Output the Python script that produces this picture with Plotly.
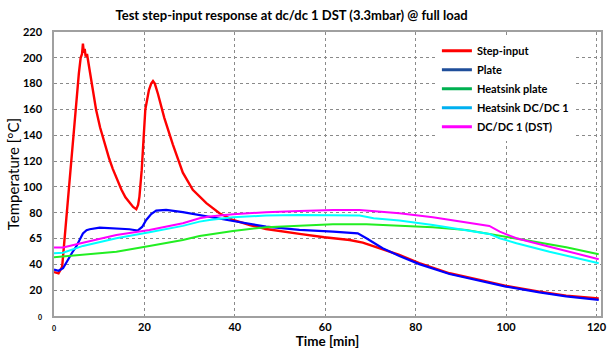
import plotly.graph_objects as go

# Step-input (red)
step_t = [0, 1, 1.8, 2.6, 3.4, 4.2, 4.8, 5.5, 5.9, 6.2, 6.4, 6.6, 6.8, 7.0, 7.3, 7.6, 7.9,
          8.6, 9.3, 10.2, 11.2, 12.2, 13.0, 13.8, 14.9, 15.8, 16.7, 17.5, 18.2, 18.6, 18.9, 19.4,
          20.2, 21.0, 21.5, 21.9, 22.3, 23.0, 24.4, 26.3, 28.5, 30.7, 33.7, 36.6, 39.6, 43.3,
          46.9, 50.6, 54.3, 59.8, 65.4, 68.3, 71.3, 76.4, 80.8, 87.5, 94.9, 100, 107.4, 113.3, 120.5]
step_v = [34, 33, 38, 70, 105, 140, 161, 188, 200, 203, 211, 204, 207, 201, 203, 196, 190,
          175, 160, 146, 133, 122, 114, 107, 98, 92, 87.5, 84.5, 82.7, 86, 92.5, 113,
          160, 175, 180, 182, 180, 172, 153.5, 132.8, 111, 97.7, 87.4, 79.6, 74.4, 70.5,
          67.4, 65.3, 63.6, 61, 58.9, 56.8, 53.3, 47.3, 40.9, 33.1, 27.4, 23.3, 18.9, 15.8, 13.5]

# Plate (blue)
plate_t = [0, 1, 2, 3, 3.4, 4, 4.9, 5.6, 6.4, 7.2, 7.9, 10.1, 13.8, 16.7, 18.5, 19.5, 20.4,
           21.5, 22.6, 24.8, 28.5, 32.2, 33.7, 39.6, 46.9, 54.3, 61.7, 67.2, 69.1, 72.7, 76.4,
           80.8, 87.5, 94.9, 100, 107.4, 113.3, 120.5]
plate_v = [36, 35, 37, 43, 46, 49, 53.7, 59, 64, 66.5, 67.2, 68.5, 68, 67.2, 66.1, 69, 74.4,
           79, 81.6, 82.2, 80.4, 78.3, 77, 73.6, 69.2, 66.7, 65.3, 64, 60.2, 52.5, 46.5,
           40.2, 32.5, 26.8, 22.8, 18.3, 15.2, 12.5]

# Heatsink plate (green)
hs_plate_t = [0, 6.4, 13.8, 21.1, 28.5, 32.2, 34.4, 39.6, 46.9, 54.3, 61.7, 69.1, 76.4,
              83.8, 91.2, 98.6, 106, 113.3, 120.5]
hs_plate_v = [45.5, 47.3, 49.8, 54.3, 58.9, 62, 63.3, 65.9, 68.8, 70, 71.1, 71.1, 70,
              68.8, 66.7, 62.3, 57.6, 53.3, 47.9]

# Heatsink DC/DC 1 (cyan)
hs_dc_t = [0, 2, 6.4, 13.8, 21.1, 28.5, 32.2, 34.4, 39.6, 46.9, 54.3, 61.7, 67.6, 70.7,
           76.4, 83.8, 91.2, 96.3, 98.6, 102.3, 109.6, 120.5]
hs_dc_v = [48.6, 49, 54.3, 60.2, 64.9, 69.8, 73.1, 74.4, 76.5, 77.8, 78.3, 78.3, 77.8, 75.7,
           73.9, 70.5, 66.7, 63.6, 60.2, 56.4, 49.8, 40.9]

# DC/DC 1 (DST) (magenta)
dst_t = [0, 2, 6.4, 13.8, 21.1, 28.5, 32.2, 34.4, 39.6, 46.9, 54.3, 61.7, 67.6, 72, 76.4,
         83.8, 91.2, 96.3, 98.6, 102.3, 109.6, 120.5]
dst_v = [53, 53, 56.8, 62.8, 66.7, 71.9, 75.7, 77, 78.8, 80.4, 81.4, 82.2, 82.2, 81, 79.6,
         76.5, 72.3, 69.8, 65.3, 60.2, 53.7, 44]

series_names = ["Step-input", "Plate", "Heatsink plate", "Heatsink DC/DC 1", "DC/DC 1 (DST)"]
line_colors = ["#FF0000", "#0000FF", "#22EE22", "#00FFFF", "#FF00FF"]
legend_colors = ["#FF0000", "#1F4E9A", "#00B050", "#00B0F0", "#FF00FF"]
line_widths = [2.4, 2.2, 2, 2, 2]

y_tick_vals = [0, 20, 40, 60, 80, 100, 120, 140, 160, 180, 200, 220]
y_tick_text = ["<span style='font-size:7px'>0</span>", "20", "40", "65", "80", "100",
               "120", "140", "160", "180", "200", "220"]
x_tick_vals = [0, 20, 40, 60, 80, 100, 120]
x_tick_text = ["<span style='font-size:7px'>0</span>", "20", "40", "60", "80", "100", "120"]

FONT = "Lato, Arial, sans-serif"

fig = go.Figure()
data = [(step_t, step_v), (plate_t, plate_v), (hs_plate_t, hs_plate_v),
        (hs_dc_t, hs_dc_v), (dst_t, dst_v)]
for (t, v), name, lc, lw in zip(data, series_names, line_colors, line_widths):
    fig.add_trace(go.Scatter(x=t, y=v, mode="lines", name=name, legendgroup=name,
                             showlegend=False, line=dict(color=lc, width=lw)))
# legend entries
for name, lc in zip(series_names, legend_colors):
    fig.add_trace(go.Scatter(x=[None], y=[None], mode="lines", name=name, legendgroup=name,
                             line=dict(color=lc, width=3)))

grid = dict(showgrid=True, gridcolor="#8a8a8a", griddash="dot", gridwidth=1,
            showline=True, linecolor="#a0a0a0", linewidth=1.5, mirror=True,
            zeroline=False, ticks="", automargin=False,
            tickfont=dict(family=FONT, size=11, color="black", weight="bold"))

fig.update_layout(
    width=610, height=349,
    margin=dict(l=54, r=9, t=32, b=33),
    paper_bgcolor="white", plot_bgcolor="white",
    font=dict(family=FONT, color="black"),
    title=dict(text="<b>Test step-input response at dc/dc 1 DST (3.3mbar) @ full load</b>",
               x=0.478, xanchor="center", y=0.955, yanchor="middle",
               font=dict(size=13, family=FONT, color="black")),
    xaxis=dict(range=[0, 121], tickvals=x_tick_vals, ticktext=x_tick_text,
               ticklabelstandoff=0,
               title=dict(text="<b>Time [min]</b>", standoff=3,
                          font=dict(size=13.5, family=FONT)), **grid),
    yaxis=dict(range=[0, 220], tickvals=y_tick_vals, ticktext=y_tick_text,
               ticklabelstandoff=8,
               title=dict(text="Temperature [°C]", standoff=0,
                          font=dict(size=15, family=FONT)), **grid),
    legend=dict(x=0.70, y=0.985, xanchor="left", yanchor="top", bgcolor="white",
                borderwidth=0, font=dict(family=FONT, size=11, color="black", weight="bold"),
                tracegroupgap=0),
    showlegend=True,
)

fig.write_html("out.html")
